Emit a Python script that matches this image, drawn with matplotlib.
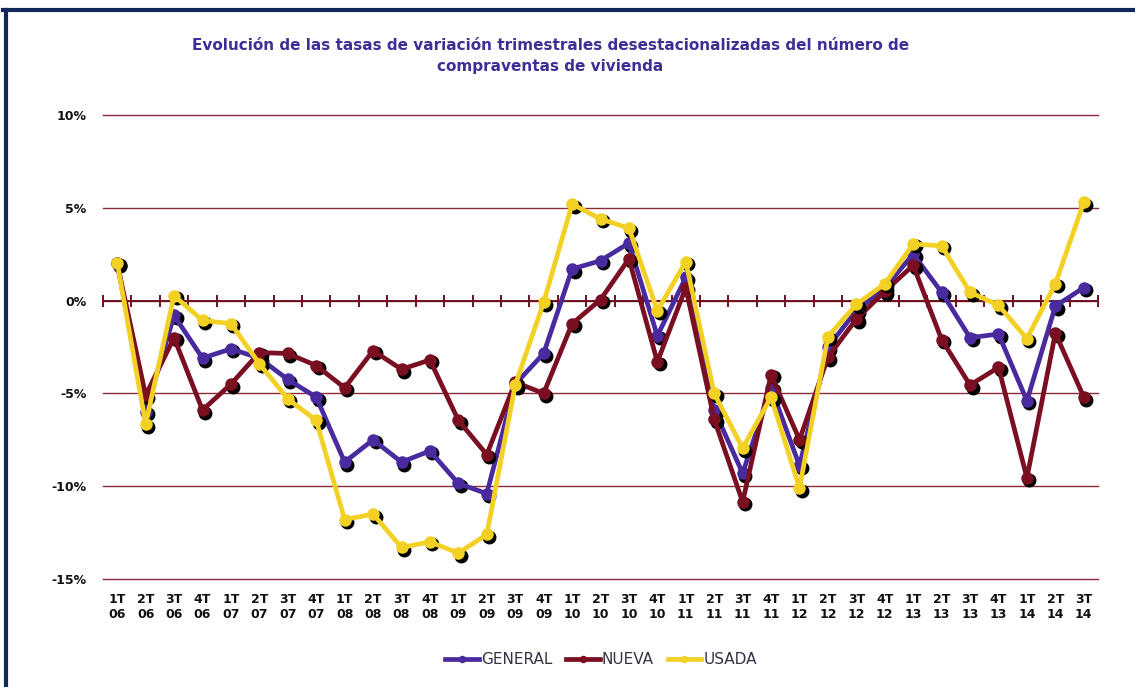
import matplotlib
matplotlib.use("Agg")
import matplotlib.pyplot as plt
from matplotlib import ticker as mticker
from matplotlib.lines import Line2D
from matplotlib.transforms import offset_copy

# ---- data (% quarterly change, seasonally adjusted) ----
quarters = ["1T", "2T", "3T", "4T"]
years = ["06", "07", "08", "09", "10", "11", "12", "13", "14"]
labels = [f"{q}\n{y}" for y in years for q in quarters][:35]

general = [2.0, -6.0, -0.8, -3.1, -2.6, -3.1, -4.25, -5.2, -8.7, -7.5,
           -8.7, -8.1, -9.85, -10.4, -4.5, -2.85, 1.7, 2.15, 3.1, -1.9,
           1.25, -5.9, -9.3, -4.7, -8.9, -2.5, -0.55, 0.7, 2.5, 0.45,
           -2.0, -1.8, -5.4, -0.3, 0.7]
nueva = [2.0, -5.1, -2.0, -5.9, -4.5, -2.8, -2.85, -3.5, -4.7, -2.7,
         -3.7, -3.2, -6.45, -8.3, -4.4, -5.0, -1.25, 0.05, 2.25, -3.3,
         0.7, -6.4, -10.85, -4.0, -7.5, -3.05, -1.0, 0.5, 1.9, -2.1,
         -4.55, -3.6, -9.55, -1.75, -5.2]
usada = [2.05, -6.65, 0.27, -1.07, -1.24, -3.4, -5.3, -6.45, -11.8, -11.5,
         -13.3, -13.0, -13.6, -12.6, -4.55, -0.1, 5.2, 4.4, 3.9, -0.55,
         2.1, -5.0, -7.95, -5.2, -10.1, -1.95, -0.2, 0.9, 3.05, 2.95,
         0.45, -0.25, -2.05, 0.9, 5.3]

series = [
    ("GENERAL", general, "#4a2b9f"),
    ("NUEVA", nueva, "#7a0f22"),
    ("USADA", usada, "#f2d024"),
]
yticks = [-15, -10, -5, 0, 5, 10]

grid_color = "#8c2a3c"
title_color = "#3f2e96"

fig = plt.figure(figsize=(11.35, 6.87), dpi=100)
ax = fig.add_axes([103 / 1135, 108 / 687, 995 / 1135, 464 / 687])

xs = list(range(len(labels)))
shadow = offset_copy(ax.transData, fig=fig, x=2.5, y=-2.5, units="dots")

z = 3
for name, vals, color in series:
    ax.plot(xs, vals, linestyle="none", marker="o", markersize=9,
            color="black", transform=shadow, zorder=z)
    ax.plot(xs, vals, color=color, linewidth=3.4, marker="o", markersize=9,
            markeredgewidth=0, solid_joinstyle="round", zorder=z + 1,
            label=name)
    z += 2

ax.set_xlim(-0.5, len(labels) - 0.5)
ax.set_ylim(-15, 10)
ax.set_yticks(yticks)
ax.yaxis.set_major_formatter(mticker.FuncFormatter(lambda v, _: f"{v:.0f}%"))
ax.yaxis.grid(True, color=grid_color, linewidth=1.0)
ax.set_axisbelow(True)
for gl in ax.get_ygridlines():
    gl.set_clip_on(False)

for s in ("left", "right", "bottom"):
    ax.spines[s].set_visible(False)
# zero line with category tick marks
ax.spines["top"].set_position(("data", 0))
ax.spines["top"].set_color("#6e0f1e")
ax.spines["top"].set_linewidth(1.4)

ax.set_xticks(xs)
ax.set_xticklabels(labels)
ax.xaxis.set_minor_locator(mticker.FixedLocator([x - 0.5 for x in xs] + [xs[-1] + 0.5]))
ax.tick_params(axis="x", which="major", length=0, pad=10, labelsize=9)
ax.tick_params(axis="x", which="minor", bottom=False, top=True,
               direction="inout", length=9, width=1.4, color="#6e0f1e")
ax.tick_params(axis="y", length=0, pad=12, labelsize=9)
for t in ax.get_xticklabels() + ax.get_yticklabels():
    t.set_fontweight("bold")
    t.set_color("#111111")

fig.text(0.485, 1 - 56 / 687,
         "Evolución de las tasas de variación trimestrales desestacionalizadas del número de\n"
         "compraventas de vivienda",
         ha="center", va="center", multialignment="center",
         fontsize=11, fontweight="bold", color=title_color, linespacing=1.5)

leg = fig.legend(loc="center", bbox_to_anchor=(601 / 1135, 27 / 687), ncol=3,
                 frameon=False, fontsize=11, handlelength=2.2,
                 handletextpad=0.15, columnspacing=0.9, markerscale=0.6)
for txt in leg.get_texts():
    txt.set_color("#333344")

# page frame
fig.add_artist(Line2D([0.003, 1.0], [1 - 10 / 687, 1 - 10 / 687],
                      transform=fig.transFigure, color="#12275a", linewidth=3))
fig.add_artist(Line2D([0.005, 0.005], [0.0, 1 - 10 / 687],
                      transform=fig.transFigure, color="#12275a", linewidth=3))

fig.savefig("out.png", dpi=100)
